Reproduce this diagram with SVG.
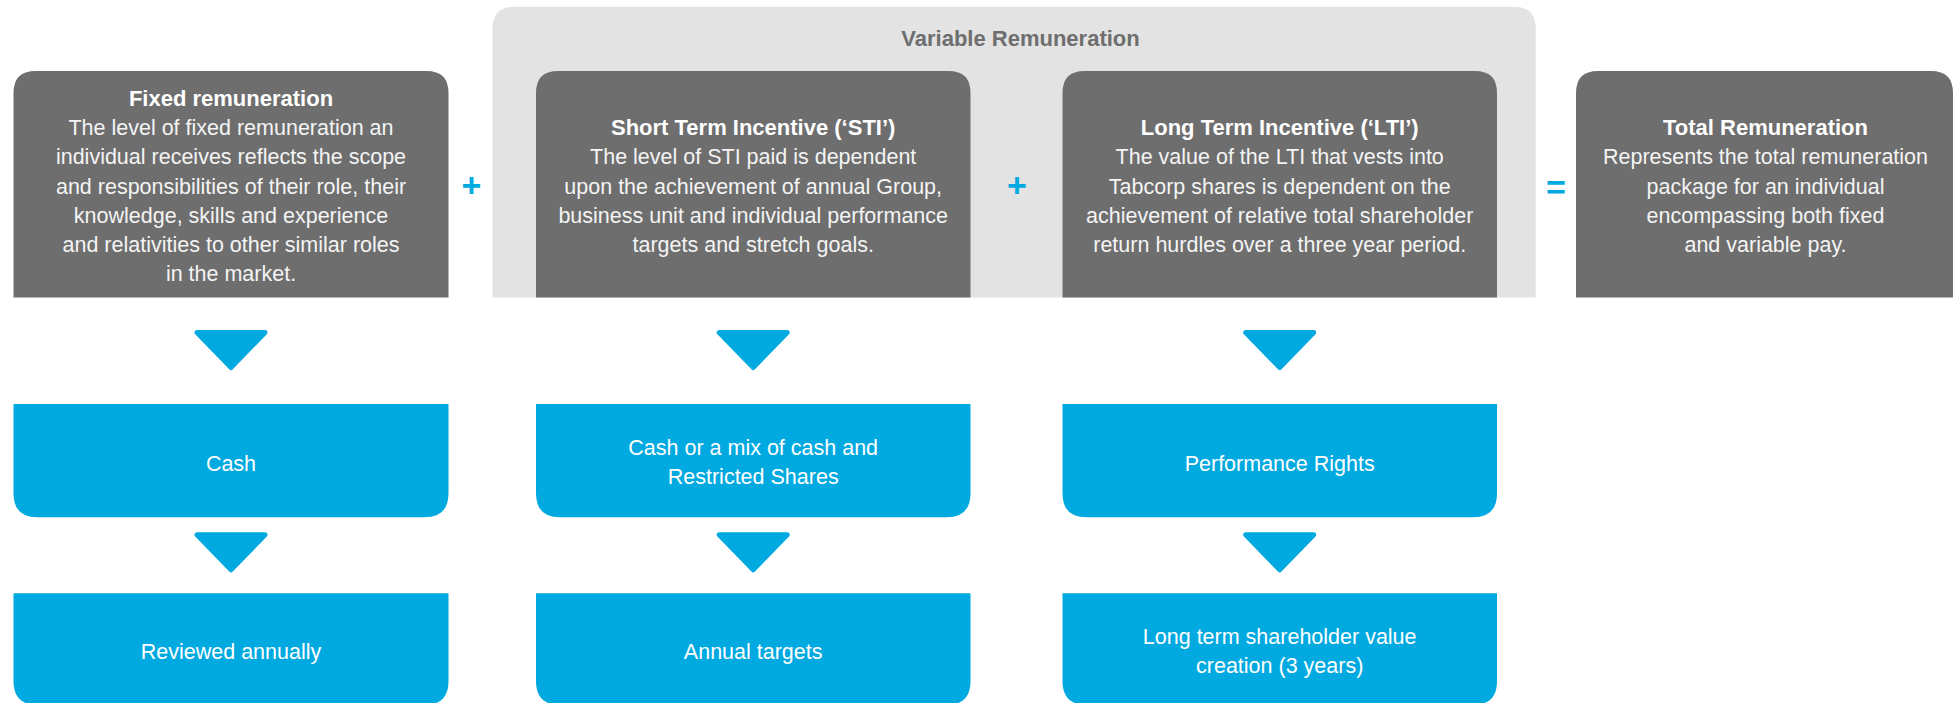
<svg xmlns="http://www.w3.org/2000/svg" width="1953" height="703" viewBox="0 0 1953 703">
  <defs>
    <style>
      .panel { fill: #E3E3E3; }
      .grey { fill: #6E6E6E; }
      .blue { fill: #00A9E0; }
      .arrow { fill: #00A9E0; stroke: #00A9E0; stroke-width: 5; stroke-linejoin: round; }
      .title { font-family: "Liberation Sans", Arial, sans-serif; font-weight: bold; font-size: 22px; fill: #FFFFFF; text-anchor: middle; }
      .body { font-family: "Liberation Sans", Arial, sans-serif; font-size: 21.5px; fill: #F4F4F4; text-anchor: middle; }
      .label { font-family: "Liberation Sans", Arial, sans-serif; font-size: 21.5px; fill: #FFFFFF; text-anchor: middle; }
      .group-title { font-family: "Liberation Sans", Arial, sans-serif; font-weight: bold; font-size: 22px; fill: #6E6E6E; text-anchor: middle; }
      .op { font-family: "Liberation Sans", Arial, sans-serif; font-weight: bold; font-size: 34px; fill: #00A9E0; text-anchor: middle; }
    </style>
  </defs>

  <rect width="1953" height="703" fill="#FFFFFF"/>

  <!-- Variable remuneration panel behind STI and LTI -->
  <g id="variable-panel">
    <path class="panel" d="M492.5,297.5 V28.7 Q492.5,6.7 514.5,6.7 H1513.7 Q1535.7,6.7 1535.7,28.7 V297.5 Z"/>
    <text class="group-title" x="1020.5" y="46">Variable Remuneration</text>
  </g>

  <!-- Fixed remuneration -->
  <g id="fixed">
    <path class="grey" d="M13.5,297.5 V93 Q13.5,71 35.5,71 H426.5 Q448.5,71 448.5,93 V297.5 Z"/>
    <text class="title" x="231" y="106">Fixed remuneration</text>
    <text class="body" x="231" y="135">The level of fixed remuneration an</text>
    <text class="body" x="231" y="164.3">individual receives reflects the scope</text>
    <text class="body" x="231" y="193.5">and responsibilities of their role, their</text>
    <text class="body" x="231" y="222.7">knowledge, skills and experience</text>
    <text class="body" x="231" y="252">and relativities to other similar roles</text>
    <text class="body" x="231" y="281.3">in the market.</text>
  </g>

  <!-- Short term incentive -->
  <g id="sti">
    <path class="grey" d="M536,297.5 V93 Q536,71 558,71 H948.5 Q970.5,71 970.5,93 V297.5 Z"/>
    <text class="title" x="753.2" y="135">Short Term Incentive (‘STI’)</text>
    <text class="body" x="753.2" y="164.3">The level of STI paid is dependent</text>
    <text class="body" x="753.2" y="193.5">upon the achievement of annual Group,</text>
    <text class="body" x="753.2" y="222.7">business unit and individual performance</text>
    <text class="body" x="753.2" y="252">targets and stretch goals.</text>
  </g>

  <!-- Long term incentive -->
  <g id="lti">
    <path class="grey" d="M1062.5,297.5 V93 Q1062.5,71 1084.5,71 H1475 Q1497,71 1497,93 V297.5 Z"/>
    <text class="title" x="1279.7" y="135">Long Term Incentive (‘LTI’)</text>
    <text class="body" x="1279.7" y="164.3">The value of the LTI that vests into</text>
    <text class="body" x="1279.7" y="193.5">Tabcorp shares is dependent on the</text>
    <text class="body" x="1279.7" y="222.7">achievement of relative total shareholder</text>
    <text class="body" x="1279.7" y="252">return hurdles over a three year period.</text>
  </g>

  <!-- Total remuneration -->
  <g id="total">
    <path class="grey" d="M1576,297.5 V93 Q1576,71 1598,71 H1931 Q1953,71 1953,93 V297.5 Z"/>
    <text class="title" x="1765.5" y="135">Total Remuneration</text>
    <text class="body" x="1765.5" y="164.3">Represents the total remuneration</text>
    <text class="body" x="1765.5" y="193.5">package for an individual</text>
    <text class="body" x="1765.5" y="222.7">encompassing both fixed</text>
    <text class="body" x="1765.5" y="252">and variable pay.</text>
  </g>

  <!-- Operators between the components -->
  <g id="operators">
    <text class="op" x="471.5" y="196.5">+</text>
    <text class="op" x="1017" y="196.5">+</text>
    <text class="op" x="1556" y="199">=</text>
  </g>

  <!-- Delivery vehicles -->
  <g id="fixed-vehicle">
    <path class="blue" d="M13.5,404 H448.5 V493.3 Q448.5,517.3 424.5,517.3 H37.5 Q13.5,517.3 13.5,493.3 Z"/>
    <text class="label" x="231" y="470.5">Cash</text>
  </g>
  <g id="sti-vehicle">
    <path class="blue" d="M536,404 H970.5 V493.3 Q970.5,517.3 946.5,517.3 H560 Q536,517.3 536,493.3 Z"/>
    <text class="label" x="753.2" y="455">Cash or a mix of cash and</text>
    <text class="label" x="753.2" y="484">Restricted Shares</text>
  </g>
  <g id="lti-vehicle">
    <path class="blue" d="M1062.5,404 H1497 V493.3 Q1497,517.3 1473,517.3 H1086.5 Q1062.5,517.3 1062.5,493.3 Z"/>
    <text class="label" x="1279.7" y="470.5">Performance Rights</text>
  </g>

  <!-- Performance horizons -->
  <g id="fixed-horizon">
    <path class="blue" d="M13.5,593.3 H448.5 V681 Q448.5,705 424.5,705 H37.5 Q13.5,705 13.5,681 Z"/>
    <text class="label" x="231" y="659">Reviewed annually</text>
  </g>
  <g id="sti-horizon">
    <path class="blue" d="M536,593.3 H970.5 V681 Q970.5,705 946.5,705 H560 Q536,705 536,681 Z"/>
    <text class="label" x="753.2" y="659">Annual targets</text>
  </g>
  <g id="lti-horizon">
    <path class="blue" d="M1062.5,593.3 H1497 V681 Q1497,705 1473,705 H1086.5 Q1062.5,705 1062.5,681 Z"/>
    <text class="label" x="1279.7" y="644">Long term shareholder value</text>
    <text class="label" x="1279.7" y="672.7">creation (3 years)</text>
  </g>

  <!-- Downward arrow connectors -->
  <g id="connectors">
    <polygon class="arrow" points="197,332.5 265,332.5 231,367.5"/>
    <polygon class="arrow" points="719.2,332.5 787.2,332.5 753.2,367.5"/>
    <polygon class="arrow" points="1245.7,332.5 1313.7,332.5 1279.7,367.5"/>
    <polygon class="arrow" points="197,534.8 265,534.8 231,569.8"/>
    <polygon class="arrow" points="719.2,534.8 787.2,534.8 753.2,569.8"/>
    <polygon class="arrow" points="1245.7,534.8 1313.7,534.8 1279.7,569.8"/>
  </g>
</svg>
